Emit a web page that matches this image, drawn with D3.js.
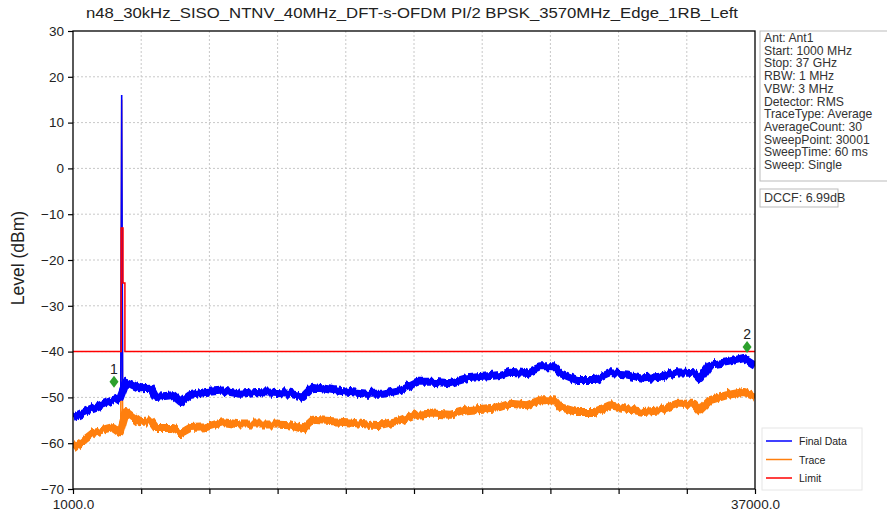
<!DOCTYPE html>
<html>
<head>
<meta charset="utf-8">
<script src="https://cdn.jsdelivr.net/npm/d3@7"></script>
<style>
  html, body { margin: 0; padding: 0; background: #fff; }
  svg { display: block; font-family: "Liberation Sans", Arial, sans-serif; }
</style>
</head>
<body>
<svg id="chart" width="887" height="517"></svg>
<script>
const titleText = "n48_30kHz_SISO_NTNV_40MHz_DFT-s-OFDM PI/2 BPSK_3570MHz_Edge_1RB_Left";
const yTicks = [-70, -60, -50, -40, -30, -20, -10, 0, 10, 20, 30];
const xTicks = [1000, 4600, 8200, 11800, 15400, 19000, 22600, 26200, 29800, 33400, 37000];
const xTickLabels = ["1000.0", "", "", "", "", "", "", "", "", "", "37000.0"];

const freqs = [1000, 2056, 3112, 3481, 3798, 4537, 5118, 5382, 6279, 6701, 7176, 8021, 8919, 9816,
  10661, 11558, 12455, 13142, 13670, 14725, 15623, 16520, 17365, 18262, 19160, 20004, 20902,
  21799, 22644, 23541, 24069, 24966, 25653, 26392, 26709, 27606, 28504, 29348, 30246, 31143,
  31988, 32885, 33782, 34099, 34627, 35524, 36422, 37000];
const finalData = [-54.3, -52.3, -50.6, -50.1, -46.6, -48.0, -47.9, -49.9, -49.5, -51.0, -49.5, -48.8,
  -48.5, -49.2, -48.8, -49.0, -49.2, -49.9, -47.7, -48.4, -48.8, -49.2, -49.2, -48.4, -46.6, -46.6,
  -46.9, -45.8, -45.5, -45.1, -44.4, -44.7, -43.4, -43.4, -44.7, -46.2, -46.2, -44.7, -45.0, -45.8,
  -45.5, -44.5, -44.7, -46.0, -42.9, -42.3, -41.4, -42.9];
const traceData = [-61.2, -57.8, -56.7, -57.8, -53.2, -55.4, -55.2, -56.7, -56.7, -57.8, -56.7, -56.5,
  -55.4, -55.9, -55.9, -55.9, -56.1, -56.9, -54.9, -55.2, -55.5, -55.9, -56.1, -55.2, -53.8, -53.5,
  -53.8, -52.8, -52.5, -52.1, -51.4, -51.7, -50.6, -50.6, -52.1, -53.2, -53.2, -51.7, -52.5, -53.2,
  -52.8, -51.4, -51.4, -52.8, -50.6, -49.5, -48.8, -49.9];

const spikeFreqs = [3520, 3570, 3620];
const spikeFinal = [-50, 16, -48];
const spikeTrace = [-57, 15, -55];

const limitFreqs = [1000, 3545, 3545, 3640, 3640, 3740, 3740, 37000];
const limitLevels = [-40, -40, -13, -13, -25, -25, -40, -40];

const markerLabels = ["1", "2"];
const markerFreqs = [3164, 36580];
const markerLevels = [-46.6, -39.0];

const infoLines = ["Ant: Ant1", "Start: 1000 MHz", "Stop: 37 GHz", "RBW: 1 MHz", "VBW: 3 MHz",
  "Detector: RMS", "TraceType: Average", "AverageCount: 30", "SweepPoint: 30001",
  "SweepTime: 60 ms", "Sweep: Single"];
const dccfText = "DCCF: 6.99dB";
const legendNames = ["Final Data", "Trace", "Limit"];
const colors = { final: "#0000ff", trace: "#ff7f0e", limit: "#ff0000", marker: "#2ca02c" };

const svg = d3.select("#chart");
const L = 73, R = 755, T = 31, B = 489;
const x = d3.scaleLinear().domain([1000, 37000]).range([L, R]);
const y = d3.scaleLinear().domain([-70, 30]).range([B, T]);

// jagged "noise" rendering style for the measured traces (visual only)
const defs = svg.append("defs");
const flt = defs.append("filter").attr("id", "jag").attr("x", "-2%").attr("y", "-20%")
  .attr("width", "104%").attr("height", "140%").attr("color-interpolation-filters", "sRGB");
flt.append("feTurbulence").attr("type", "fractalNoise").attr("baseFrequency", "0.3 0.02")
  .attr("numOctaves", 3).attr("seed", 3).attr("result", "n");
flt.append("feColorMatrix").attr("in", "n").attr("type", "matrix")
  .attr("values", "1 0 0 0 0  0 0 0 0 0.5  0 0 0 0 0  0 0 0 0 1").attr("result", "m");
flt.append("feDisplacementMap").attr("in", "SourceGraphic").attr("in2", "m")
  .attr("scale", 7).attr("xChannelSelector", "G").attr("yChannelSelector", "R");

// grid
const grid = svg.append("g");
grid.selectAll("line.v").data(xTicks.slice(1, -1)).enter().append("line")
  .attr("x1", d => x(d)).attr("x2", d => x(d)).attr("y1", T).attr("y2", B)
  .attr("stroke", "#c8c8c8").attr("stroke-width", 1).attr("stroke-dasharray", "2,2");
grid.selectAll("line.h").data(yTicks.slice(1, -1)).enter().append("line")
  .attr("x1", L).attr("x2", R).attr("y1", d => y(d)).attr("y2", d => y(d))
  .attr("stroke", "#c8c8c8").attr("stroke-width", 1).attr("stroke-dasharray", "2,2");

defs.append("clipPath").attr("id", "clip").append("rect")
  .attr("x", L).attr("y", T).attr("width", R - L).attr("height", B - T);
const plot = svg.append("g").attr("clip-path", "url(#clip)");

const line = d3.line().x(d => x(d[0])).y(d => y(d[1]));
const zip = (a, b) => a.map((v, i) => [v, b[i]]);

// trace (orange)
plot.append("path").datum(zip(spikeFreqs, spikeTrace)).attr("d", line)
  .attr("fill", "none").attr("stroke", colors.trace).attr("stroke-width", 1.5);
plot.append("g").attr("filter", "url(#jag)").append("path").datum(zip(freqs, traceData)).attr("d", line)
  .attr("fill", "none").attr("stroke", colors.trace).attr("stroke-width", 8)
  .attr("stroke-linejoin", "round");
// final data (blue)
plot.append("g").attr("filter", "url(#jag)").append("path").datum(zip(freqs, finalData)).attr("d", line)
  .attr("fill", "none").attr("stroke", colors.final).attr("stroke-width", 8)
  .attr("stroke-linejoin", "round");
plot.append("path").datum(zip(spikeFreqs, spikeFinal)).attr("d", line)
  .attr("fill", "none").attr("stroke", colors.final).attr("stroke-width", 1.6);
// limit
plot.append("path").datum(zip(limitFreqs, limitLevels)).attr("d", line)
  .attr("fill", "none").attr("stroke", colors.limit).attr("stroke-width", 1.5);

// markers
const mk = svg.append("g");
markerFreqs.forEach((f, i) => {
  const cx = x(f), cy = y(markerLevels[i]);
  mk.append("path").attr("d", `M${cx},${cy - 6}L${cx + 4.5},${cy}L${cx},${cy + 6}L${cx - 4.5},${cy}Z`)
    .attr("fill", colors.marker);
  mk.append("text").attr("x", cx).attr("y", cy - 8).attr("text-anchor", "middle")
    .attr("font-size", 14).attr("fill", "#222").text(markerLabels[i]);
});

// axes frame
svg.append("rect").attr("x", L).attr("y", T).attr("width", R - L).attr("height", B - T)
  .attr("fill", "none").attr("stroke", "#000").attr("stroke-width", 1.3);

const yAxis = d3.axisLeft(y).tickValues(yTicks).tickSize(5).tickPadding(4)
  .tickFormat(d => d < 0 ? "\u2212" + Math.abs(d) : String(d));
const ya = svg.append("g").attr("transform", `translate(${L},0)`).call(yAxis);
ya.select(".domain").remove();
ya.selectAll("text").attr("font-size", 13.5).attr("fill", "#222").attr("font-family", "Liberation Sans, Arial, sans-serif");
ya.selectAll("line").attr("stroke", "#000").attr("stroke-width", 1.2);

const xAxis = d3.axisBottom(x).tickValues(xTicks).tickSize(5).tickPadding(5)
  .tickFormat((d, i) => xTickLabels[i]);
const xa = svg.append("g").attr("transform", `translate(0,${B})`).call(xAxis);
xa.select(".domain").remove();
xa.selectAll("text").attr("font-size", 13.5).attr("fill", "#222").attr("font-family", "Liberation Sans, Arial, sans-serif");
xa.selectAll("line").attr("stroke", "#000").attr("stroke-width", 1.2);

// title
svg.append("text").attr("x", 412).attr("y", 18).attr("text-anchor", "middle")
  .attr("font-size", 15.5).attr("textLength", 652).attr("lengthAdjust", "spacingAndGlyphs")
  .attr("fill", "#222").text(titleText);

// y label
svg.append("text").attr("transform", "translate(24,258) rotate(-90)").attr("text-anchor", "middle")
  .attr("font-size", 17.5).attr("fill", "#222").text("Level (dBm)");

// info panel
svg.append("rect").attr("x", 760).attr("y", 31).attr("width", 140).attr("height", 150)
  .attr("fill", "#fff").attr("stroke", "#bbb");
svg.append("g").selectAll("text").data(infoLines).enter().append("text")
  .attr("x", 764).attr("y", (d, i) => 42 + i * 12.7)
  .attr("font-size", 12.2).attr("fill", "#333").text(d => d);
svg.append("rect").attr("x", 760).attr("y", 189).attr("width", 78).attr("height", 18)
  .attr("fill", "#fff").attr("stroke", "#bbb");
svg.append("text").attr("x", 764).attr("y", 202).attr("font-size", 12.5).attr("fill", "#333").text(dccfText);

// legend
const lg = svg.append("g");
lg.append("rect").attr("x", 762).attr("y", 428).attr("width", 100).attr("height", 62)
  .attr("fill", "#fff").attr("stroke", "#e6e6e6");
const lgColors = [colors.final, colors.trace, colors.limit];
legendNames.forEach((n, i) => {
  const ly = 441 + i * 18.5;
  lg.append("line").attr("x1", 766).attr("x2", 792).attr("y1", ly).attr("y2", ly)
    .attr("stroke", lgColors[i]).attr("stroke-width", 1.5);
  lg.append("text").attr("x", 799).attr("y", ly + 4).attr("font-size", 10.5).attr("fill", "#222").text(n);
});
</script>
</body>
</html>
